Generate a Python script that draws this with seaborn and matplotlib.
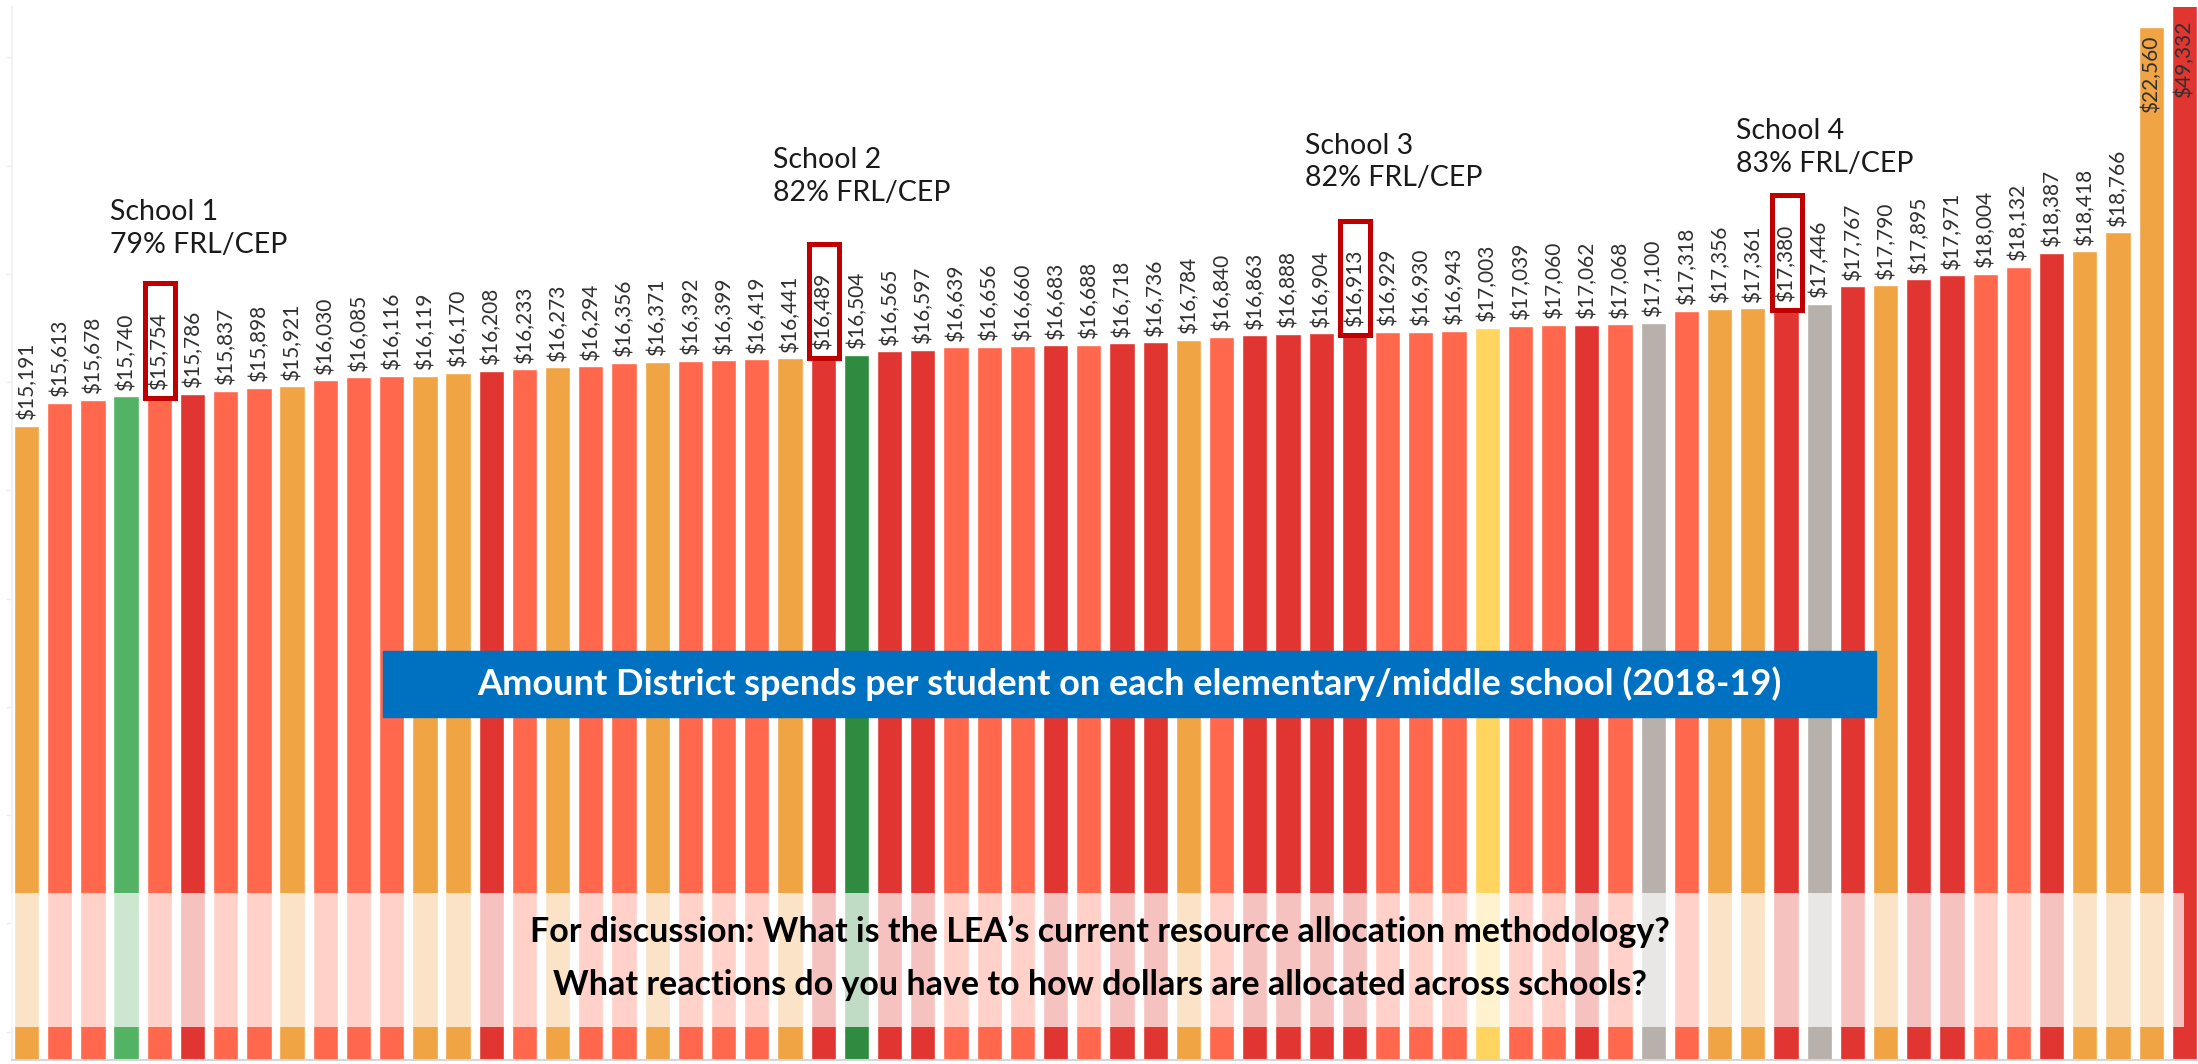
import matplotlib
matplotlib.use("Agg")
import numpy as np
import pandas as pd
import matplotlib.pyplot as plt
import seaborn as sns
from matplotlib.patches import Rectangle

# ---------------- data ----------------
spend = [15191, 15613, 15678, 15740, 15754, 15786, 15837, 15898, 15921, 16030,
         16085, 16116, 16119, 16170, 16208, 16233, 16273, 16294, 16356, 16371,
         16392, 16399, 16419, 16441, 16489, 16504, 16565, 16597, 16639, 16656,
         16660, 16683, 16688, 16718, 16736, 16784, 16840, 16863, 16888, 16904,
         16913, 16929, 16930, 16943, 17003, 17039, 17060, 17062, 17068, 17100,
         17318, 17356, 17361, 17380, 17446, 17767, 17790, 17895, 17971, 18004,
         18132, 18387, 18418, 18766, 22560, 49332]

group = ["orange", "coral", "coral", "green", "coral", "red", "coral", "coral", "orange", "coral",
         "coral", "coral", "orange", "orange", "red", "coral", "orange", "coral", "coral", "orange",
         "coral", "coral", "coral", "orange", "red", "dkgreen", "red", "red", "coral", "coral",
         "coral", "red", "coral", "red", "red", "orange", "coral", "red", "red", "red",
         "red", "coral", "coral", "coral", "yellow", "coral", "coral", "red", "coral", "grey",
         "coral", "orange", "orange", "red", "grey", "red", "orange", "red", "red", "coral",
         "coral", "red", "orange", "orange", "orange", "red"]

schools = [f"School {i + 1:02d}" for i in range(len(spend))]

highlight_idx = [4, 24, 40, 53]
highlight_name = ["School 1", "School 2", "School 3", "School 4"]
highlight_frl = ["79% FRL/CEP", "82% FRL/CEP", "82% FRL/CEP", "83% FRL/CEP"]

banner_title = "Amount District spends per student on each elementary/middle school (2018-19)"
discussion = ["For discussion: What is the LEA\u2019s current resource allocation methodology?",
              "What reactions do you have to how dollars are allocated across schools?"]

palette = {"orange": "#F1A444", "coral": "#FF684C", "red": "#E03530",
           "green": "#54B264", "dkgreen": "#2E8B40", "grey": "#B8B0AB",
           "yellow": "#FFD45F"}

# ---------------- style ----------------
sns.set_theme(style="white")
plt.rcParams['font.family'] = ['Lato', 'DejaVu Sans']

W, H = 2198, 1064
fig = plt.figure(figsize=(W / 100, H / 100), dpi=100)
ax = fig.add_axes([12 / W, 4 / H, 1 - 12 / W, (1057 - 4) / H])

df = pd.DataFrame({"school": schools, "spend": spend, "group": group})
sns.barplot(data=df, x="school", y="spend", hue="group", palette=palette,
            dodge=False, width=0.76, saturation=1, legend=False, ax=ax)

ax.set_xlim(-0.437, 65.41)
ax.set_ylim(3476, 22929)
ax.set_xlabel("")
ax.set_ylabel("")
ax.set_xticks([])
ax.set_yticks(np.arange(4000, 23000, 2000))
ax.set_yticklabels([])
ax.tick_params(axis="y", left=True, length=4, width=1, color="#EDEDED")
for s in ["top", "right"]:
    ax.spines[s].set_visible(False)
ax.spines["left"].set_color("#F0F0F0")
ax.spines["bottom"].set_color("#D6D6D6")
ax.spines["bottom"].set_linewidth(1.5)

ymax = ax.get_ylim()[1]
for i, v in enumerate(spend):
    lab = f"${v:,}"
    if v < 20000:
        ax.annotate(lab, (i, v), xytext=(0, 4), textcoords="offset points",
                    rotation=90, ha="center", va="bottom", fontsize=15,
                    color="#303030")
    else:
        ax.annotate(lab, (i, min(v, ymax)), xytext=(0, -6 if v < ymax else -10),
                    textcoords="offset points", rotation=90, ha="center",
                    va="top", fontsize=15, color="#303030")

gaps = [18, 27, 21, 13]
for k, idx in enumerate(highlight_idx):
    v = spend[idx]
    ax.add_patch(Rectangle((idx - 0.42, v - 40), 0.9, 2110, fill=False,
                           ec="#C00000", lw=3.6, zorder=5, clip_on=False))
    ax.annotate(f"{highlight_name[k]}\n{highlight_frl[k]}",
                (idx - 1.5, v - 40 + 2110), xytext=(0, gaps[k]),
                textcoords="offset points", ha="left", va="bottom",
                fontsize=20.5, linespacing=1.33, color="#1A1A1A")

# blue banner
fig.add_artist(Rectangle((383 / W, 1 - 717 / H), (1876 - 383) / W, 66 / H,
                         transform=fig.transFigure, color="#0070C0", zorder=10))
fig.text((383 + 1876) / 2 / W, 1 - 684 / H, banner_title, ha="center", va="center",
         color="white", fontweight="bold", fontsize=26, zorder=11)

# translucent discussion band
fig.add_artist(Rectangle((11 / W, 1 - 1027 / H), (2184 - 11) / W, 134 / H,
                         transform=fig.transFigure, color="white", alpha=0.7,
                         lw=0, zorder=10))
fig.text(1100 / W, 1 - 932 / H, discussion[0], ha="center", va="center",
         color="black", fontweight="bold", fontsize=24.5, zorder=11)
fig.text(1100 / W, 1 - 985 / H, discussion[1], ha="center", va="center",
         color="black", fontweight="bold", fontsize=24.5, zorder=11)

fig.savefig("out.png", dpi=100)
